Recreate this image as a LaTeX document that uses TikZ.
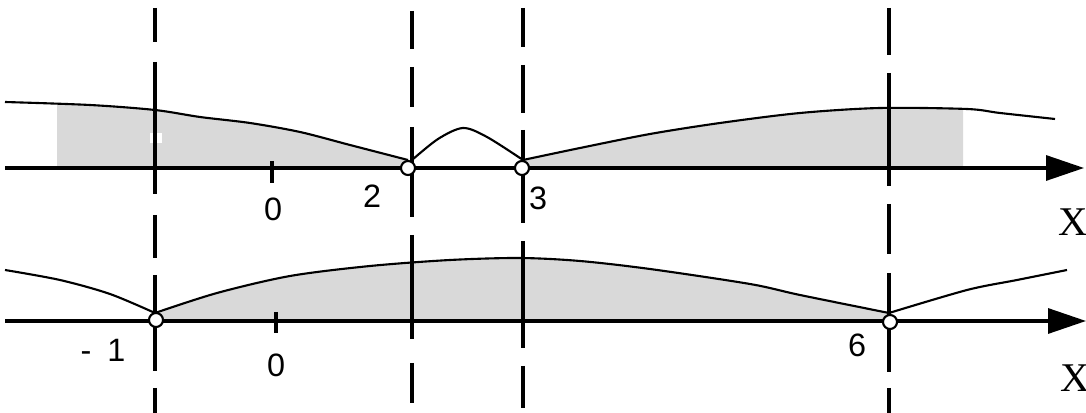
\documentclass[tikz,border=0pt]{standalone}
\usepackage{fontspec}
\setmainfont{Liberation Sans}
\newfontfamily\xfont{Liberation Serif}
\usetikzlibrary{arrows.meta}
\definecolor{areagray}{gray}{0.85}
\tikzset{
  axis/.style={line width=0.9pt,-{Triangle[length=0.38cm,width=0.25cm]}},
  curve/.style={line width=0.6pt},
  guide/.style={line width=1pt},
  hole/.style={circle,draw,line width=0.6pt,fill=white,inner sep=0pt,minimum size=0.14cm},
  num/.style={font=\fontsize{9.2}{10}\selectfont,inner sep=0pt},
  xlab/.style={font=\xfont\fontsize{11.6}{12}\selectfont,inner sep=0pt}
}
\begin{document}
\begin{tikzpicture}[x=0.01cm,y=-0.01cm,line join=round]
				\useasboundingbox (0,0) rectangle (1086,413);
				% shaded parts
				\begin{scope}
				\clip (57,0) rectangle (963,168);
				\fill[areagray] (5,168) -- plot[smooth] coordinates {(5,102) (90,105) (155,110) (200,117) (250,123) (300,132) (350,145) (408,160)} -- (408,168) -- cycle;
				\fill[areagray] (523,168) -- plot[smooth] coordinates {(523,160) (580,148) (650,134) (720,123) (800,113) (880,108) (967,109) (1000,113) (1055,119)} -- (1055,168) -- cycle;
				\end{scope}
				\fill[white] (150,133) rectangle (162,143);
				\fill[areagray] (155,321) -- plot[smooth] coordinates {(155,313) (217,293) (290,276) (370,266) (450,260) (520,258) (580,261) (650,269) (750,284) (800,295) (889,313)} -- (889,321) -- cycle;
				% dashed guides
				\foreach \x/\a/\b in {155/8/42, 155/62/194, 155/215/258, 155/275/371, 155/388/413,
					412/11/49, 412/67/107, 412/127/217, 412/235/339, 412/363/403,
					523/8/47, 523/65/113, 523/130/223, 523/241/348, 523/366/408,
					889/8/55, 889/73/186, 889/204/254, 889/273/372, 889/388/413}
				\draw[guide] (\x,\a) -- (\x,\b);
				% axes
				\draw[axis] (5,168) -- (1084,168);
				\draw[axis] (5,321) -- (1086,321);
				\draw[line width=0.9pt] (272,161) -- (272,183);
				\draw[line width=0.9pt] (276,312) -- (276,333);
				% graphs
				\draw[curve] plot[smooth] coordinates {(5,102) (90,105) (155,110) (200,117) (250,123) (300,132) (350,145) (408,160)};
				\draw[curve] plot[smooth] coordinates {(412,160) (438,139) (463,128) (487,137) (523,160)};
				\draw[curve] plot[smooth] coordinates {(523,160) (580,148) (650,134) (720,123) (800,113) (880,108) (967,109) (1000,113) (1055,119)};
				\draw[curve] plot[smooth] coordinates {(5,270) (60,280) (110,294) (155,313)};
				\draw[curve] plot[smooth] coordinates {(155,313) (217,293) (290,276) (370,266) (450,260) (520,258) (580,261) (650,269) (750,284) (800,295) (889,313)};
				\draw[curve] plot[smooth] coordinates {(889,313) (967,290) (1017,280) (1067,270)};
				% open points
				\node[hole] (p2) at (408,168) {};
				\node[hole] (p3) at (522,168) {};
				\node[hole] (pm1) at (156,320) {};
				\node[hole] (p6) at (890,322) {};
				% labels
				\node[num] (zerotop) at (273,209) {0};
				\node[num] (two) at (372,196) {2};
				\node[num] (three) at (538,198) {3};
				\node[xlab] (xtop) at (1073,222) {X};
				\node[num] (minusone) at (103,350) {-\enspace1};
				\node[num] (zerobot) at (276,365) {0};
				\node[num] (six) at (857,345) {6};
				\node[xlab] (xbot) at (1075,378) {X};
			\end{tikzpicture}
\end{document}
